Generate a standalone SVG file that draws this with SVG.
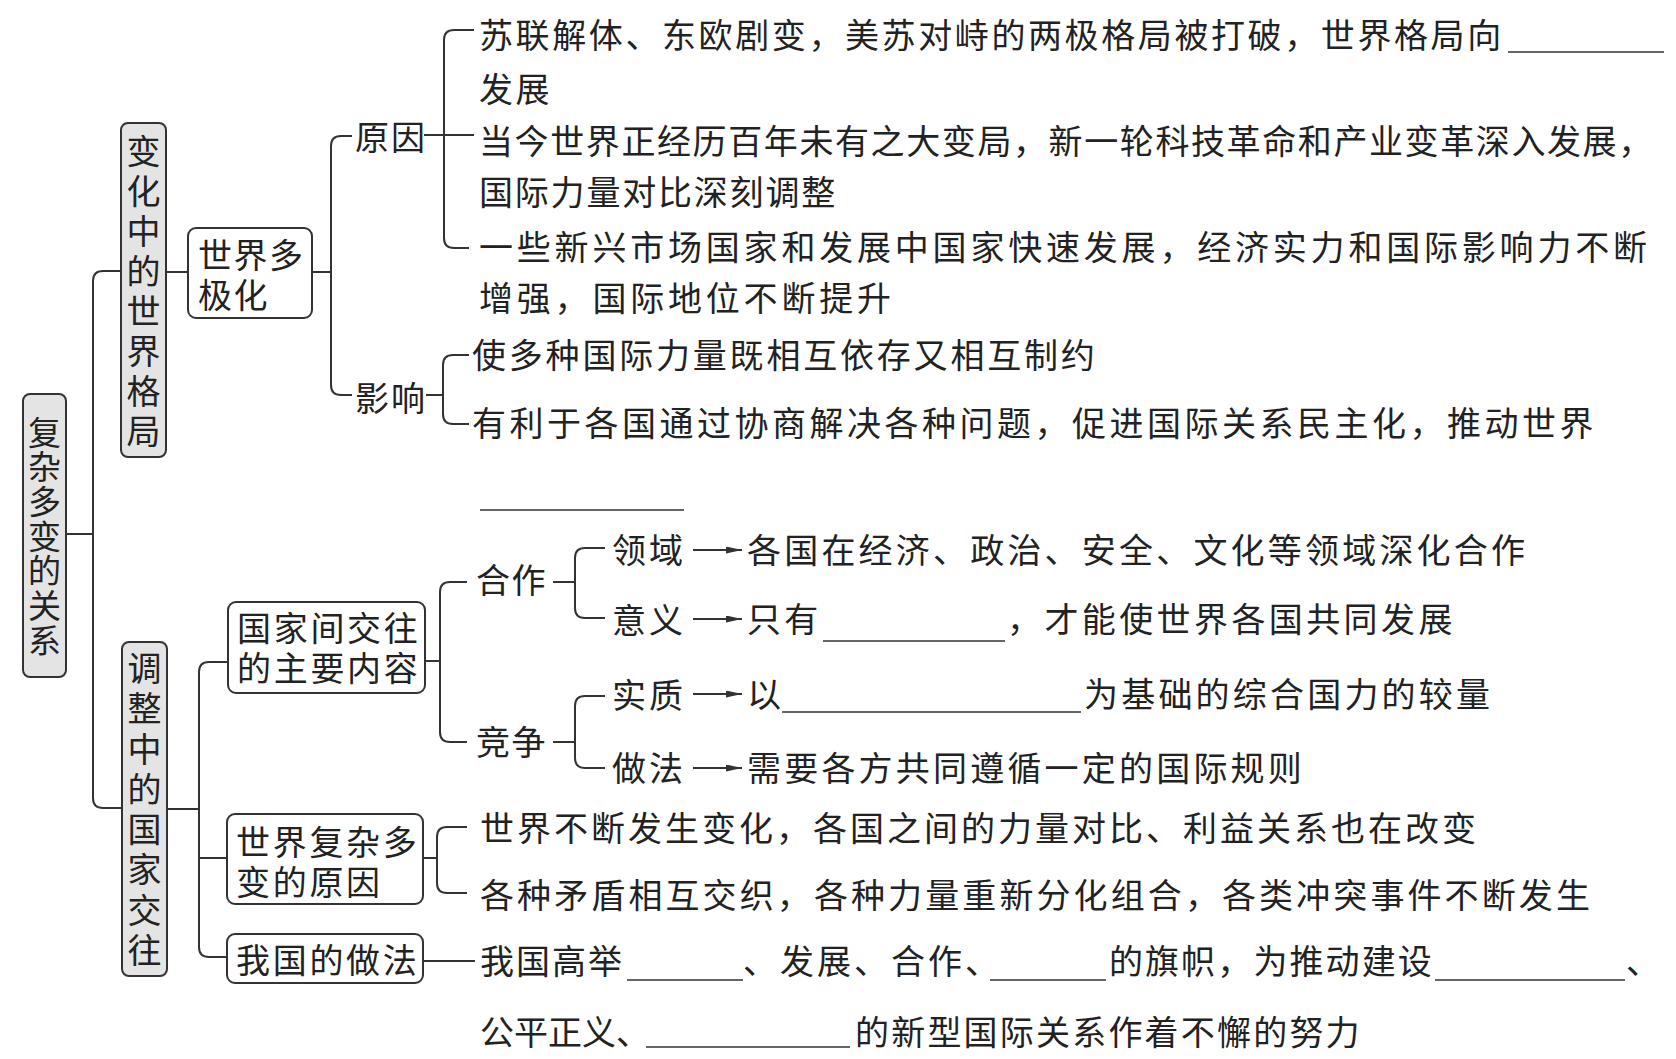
<svg xmlns="http://www.w3.org/2000/svg" width="1676" height="1059" viewBox="0 0 1676 1059">
<defs>
<style>
text{font-family:"Noto Sans CJK SC","Noto Sans CJK TC",sans-serif;font-size:34px;fill:#222;}
.box{fill:#fff;stroke:#333;stroke-width:2;}
.gbox{fill:#e4e4e4;stroke:#333;stroke-width:2;}
.ln{fill:none;stroke:#333;stroke-width:2;}
.bl{fill:none;stroke:#333;stroke-width:1.6;}
.vt{writing-mode:vertical-rl;text-orientation:upright;}
</style>
<marker id="arr" markerUnits="userSpaceOnUse" markerWidth="17" markerHeight="8" refX="16" refY="3.5" orient="auto">
<path d="M0,0 L16,3.5 L0,7 z" fill="#333"/>
</marker>
</defs>
<rect width="1676" height="1059" fill="#fff"/>

<g id="connectors">
<path class="ln" d="M66,534 H93"/>
<path class="ln" d="M121,271 H103 Q93,271 93,281 V798 Q93,808 103,808 H122"/>
<path class="ln" d="M166,272 H188"/>
<path class="ln" d="M312,272 H331"/>
<path class="ln" d="M352,136 H341 Q331,136 331,146 V385 Q331,395 341,395 H352"/>
<path class="ln" d="M424,135 H474"/>
<path class="ln" d="M474,30 H454 Q444,30 444,40 V238 Q444,248 454,248 H469"/>
<path class="ln" d="M426,395 H443"/>
<path class="ln" d="M469,355 H453 Q443,355 443,365 V414 Q443,424 453,424 H469"/>
<path class="ln" d="M167,809 H199"/>
<path class="ln" d="M228,662 H209 Q199,662 199,672 V947 Q199,957 209,957 H227"/>
<path class="ln" d="M199,858 H227"/>
<path class="ln" d="M425,661 H440"/>
<path class="ln" d="M467,582 H450 Q440,582 440,592 V732 Q440,742 450,742 H467"/>
<path class="ln" d="M553,582 H575"/>
<path class="ln" d="M605,548 H585 Q575,548 575,558 V608 Q575,618 585,618 H605"/>
<path class="ln" d="M553,742 H575"/>
<path class="ln" d="M605,696 H585 Q575,696 575,706 V758 Q575,768 585,768 H605"/>
<path class="ln" d="M693,550 H742" marker-end="url(#arr)"/>
<path class="ln" d="M693,619 H742" marker-end="url(#arr)"/>
<path class="ln" d="M693,694 H742" marker-end="url(#arr)"/>
<path class="ln" d="M693,768 H742" marker-end="url(#arr)"/>
<path class="ln" d="M423,858 H437"/>
<path class="ln" d="M467,827 H447 Q437,827 437,837 V883 Q437,893 447,893 H467"/>
<path class="ln" d="M423,961 H475"/>
</g>

<g id="blanks">
<path class="bl" d="M1508,52 H1664"/>
<path class="bl" d="M480,510 H684"/>
<path class="bl" d="M823,641 H1005"/>
<path class="bl" d="M782,712 H1081"/>
<path class="bl" d="M627,980 H743"/>
<path class="bl" d="M990,980 H1106"/>
<path class="bl" d="M1435,980 H1625"/>
<path class="bl" d="M646,1047 H850"/>
</g>

<g id="root">
<rect class="gbox" x="23" y="394" width="43" height="283" rx="7"/>
<text class="vt" x="44.5" y="415.5" style="font-size:33px" letter-spacing="1.7">复杂多变的关系</text>
</g>

<g id="node-bianhua">
<rect class="gbox" x="121" y="123" width="45" height="334" rx="7"/>
<text class="vt" x="143.5" y="134" letter-spacing="6">变化中的世界格局</text>
</g>

<g id="node-tiaozheng">
<rect class="gbox" x="122" y="642" width="45" height="334" rx="7"/>
<text class="vt" x="144.5" y="651" letter-spacing="6.3">调整中的国家交往</text>
</g>

<g id="node-duojihua">
<rect class="box" x="188" y="228" width="124" height="90" rx="8"/>
<text letter-spacing="1.5"><tspan x="198" y="268">世界多</tspan><tspan x="198" y="308">极化</tspan></text>
</g>

<g id="node-yuanyin">
<text x="355" y="150" letter-spacing="2">原因</text>
<text x="479" y="48" letter-spacing="2.6">苏联解体、东欧剧变，美苏对峙的两极格局被打破，世界格局向</text>
<text x="479" y="102" letter-spacing="2.6">发展</text>
<text x="479" y="154" letter-spacing="1.6">当今世界正经历百年未有之大变局，新一轮科技革命和产业变革深入发展，</text>
<text x="479" y="205" letter-spacing="1.8">国际力量对比深刻调整</text>
<text x="479" y="260" letter-spacing="3.8">一些新兴市场国家和发展中国家快速发展，经济实力和国际影响力不断</text>
<text x="479" y="311" letter-spacing="3.8">增强，国际地位不断提升</text>
</g>

<g id="node-yingxiang">
<text x="355" y="411" letter-spacing="2">影响</text>
<text x="472" y="368" letter-spacing="2.8">使多种国际力量既相互依存又相互制约</text>
<text x="472" y="436" letter-spacing="3.5">有利于各国通过协商解决各种问题，促进国际关系民主化，推动世界</text>
</g>

<g id="node-zhuyao">
<rect class="box" x="228" y="602" width="197" height="91" rx="8"/>
<text letter-spacing="2.7"><tspan x="237" y="641">国家间交往</tspan><tspan x="237" y="681">的主要内容</tspan></text>
</g>

<g id="node-hezuo">
<text x="476" y="593" letter-spacing="1.5">合作</text>
<text x="612" y="563" letter-spacing="3">领域</text>
<text x="747" y="563" letter-spacing="3.2">各国在经济、政治、安全、文化等领域深化合作</text>
<text x="612" y="633" letter-spacing="3">意义</text>
<text x="747" y="632" letter-spacing="3.2">只有</text>
<text x="1007" y="632" letter-spacing="3.4">，才能使世界各国共同发展</text>
</g>

<g id="node-jingzheng">
<text x="476" y="755" letter-spacing="1.5">竞争</text>
<text x="612" y="708" letter-spacing="3">实质</text>
<text x="747" y="707">以</text>
<text x="1084" y="707" letter-spacing="3.2">为基础的综合国力的较量</text>
<text x="612" y="781" letter-spacing="3">做法</text>
<text x="747" y="781" letter-spacing="3.2">需要各方共同遵循一定的国际规则</text>
</g>

<g id="node-fuza">
<rect class="box" x="227" y="814" width="196" height="90" rx="8"/>
<text letter-spacing="2.7"><tspan x="236" y="855">世界复杂多</tspan><tspan x="236" y="895">变的原因</tspan></text>
<text x="480" y="841" letter-spacing="3">世界不断发生变化，各国之间的力量对比、利益关系也在改变</text>
<text x="480" y="908" letter-spacing="3.1">各种矛盾相互交织，各种力量重新分化组合，各类冲突事件不断发生</text>
</g>

<g id="node-zuofa">
<rect class="box" x="227" y="934" width="196" height="49" rx="8"/>
<text x="236" y="973" letter-spacing="2.7">我国的做法</text>
<text x="480" y="974" letter-spacing="2">我国高举</text>
<text x="743" y="974" letter-spacing="3">、发展、合作、</text>
<text x="1109" y="974" letter-spacing="2.1">的旗帜，为推动建设</text>
<text x="1626" y="974">、</text>
<text x="480" y="1045">公平正义、</text>
<text x="855" y="1045" letter-spacing="2.2">的新型国际关系作着不懈的努力</text>
</g>
</svg>
